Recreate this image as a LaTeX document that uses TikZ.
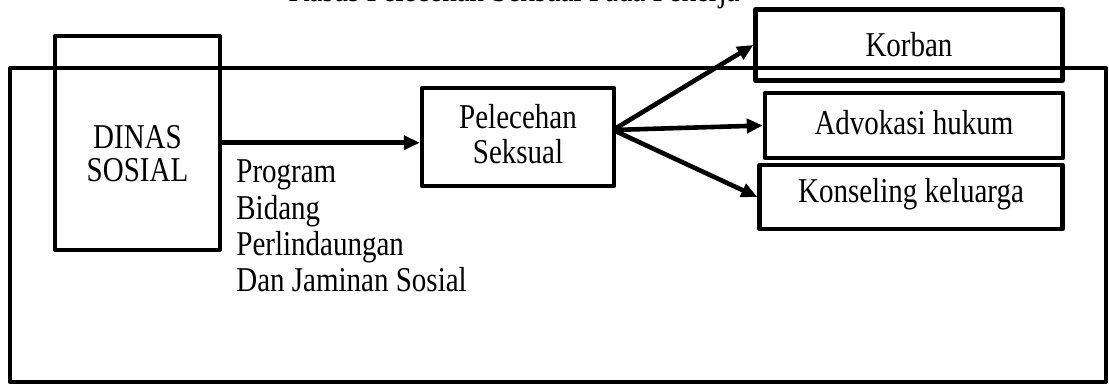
\documentclass[tikz,border=0pt]{standalone}
\usepackage{fontspec}
\setmainfont{Liberation Serif}
\usetikzlibrary{arrows.meta}
\newcommand\vsc[1]{\scalebox{1}[1.2]{#1}}
\begin{document}
\begin{tikzpicture}[x=0.5pt,y=-0.5pt,
  box/.style={draw,line width=2.2pt,line join=round,inner sep=0pt},
  txt/.style={font=\fontsize{14.5}{17.5}\selectfont,align=center},
  arr/.style={line width=2.3pt,-{Triangle[length=8pt,width=7pt]}}]
\useasboundingbox (0,0) rectangle (1109,384);
\clip (0,0) rectangle (1109,384);
% cut-off title
\node[txt,anchor=base,inner sep=0pt] (title) at (514,2) {\vsc{Kasus Pelecehan Seksual Pada Pekerja}};
% outer frame
\coordinate (fa) at (10,68);
\coordinate (fb) at (1106,382);
\draw[line width=2pt,line join=round] (fa) rectangle (fb);
% boxes
\node[box,minimum width=82.5pt,minimum height=107pt] (dinas) at (137.5,142.75) {};
\node[txt,anchor=base,inner sep=0pt,font=\fontsize{14.5}{16.8}\selectfont] (dinast) at (137.5,182) {\vsc{DINAS}\\\vsc{SOSIAL}};
\node[box,minimum width=96pt,minimum height=49pt] (pel) at (518,137) {};
\node[txt] (pelt) at (518,134) {\vsc{Pelecehan}\\\vsc{Seksual}};
\node[box,minimum width=153.5pt,minimum height=35.5pt,txt] (korban) at (909,45) {};
\node[txt,anchor=base] (korbant) at (909,57) {\vsc{Korban}};
\node[box,minimum width=149pt,minimum height=32.5pt] (adv) at (914,125.5) {};
\node[txt,anchor=base] (advt) at (914,135) {\vsc{Advokasi hukum}};
\node[box,minimum width=151.5pt,minimum height=32pt] (kon) at (911,197) {};
\node[txt,anchor=base] (kont) at (911,203) {\vsc{Konseling keluarga}};
% label under arrow
\node[txt,anchor=base west,align=left,inner sep=0pt,font=\fontsize{14.5}{18.2}\selectfont] (prog) at (236,292)
  {\vsc{Program}\\\vsc{Bidang}\\\vsc{Perlindaungan}\\\vsc{Dan Jaminan Sosial}};
% arrows
\draw[arr] (dinas.east) -- (dinas.east -| pel.west);
\coordinate (fan) at (613,130);
\draw[arr] (fan) -- (korban.west);
\draw[arr] (fan) -- (adv.west);
\draw[arr] (fan) -- (kon.west);
\end{tikzpicture}
\end{document}
